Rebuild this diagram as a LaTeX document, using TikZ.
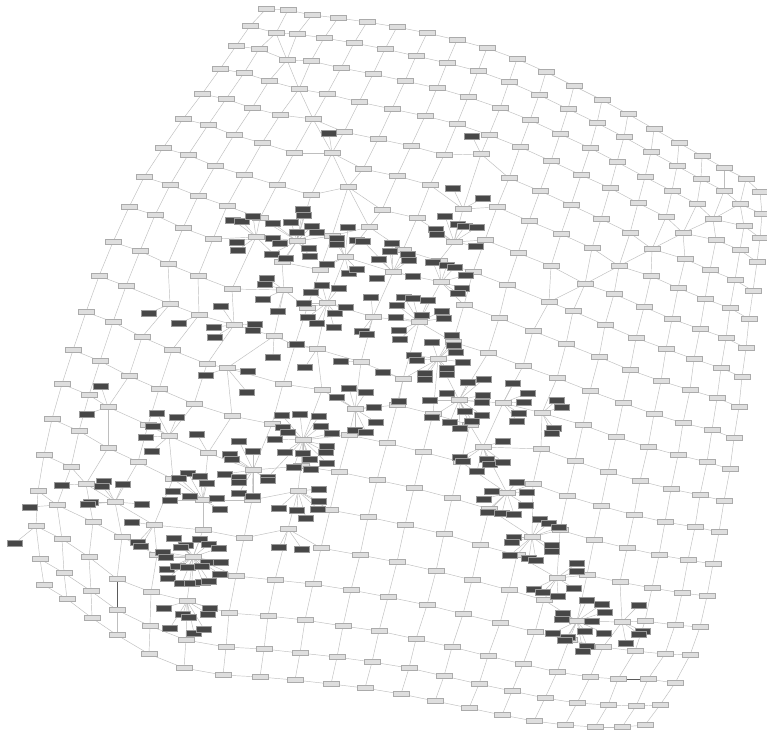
\documentclass[tikz,border=0pt]{standalone}
\pgfdeclarelayer{bg}
\pgfdeclarelayer{edges}
\pgfsetlayers{bg,edges,main}
\definecolor{lightfill}{HTML}{DEDEDE}
\definecolor{lightdraw}{HTML}{ABABAB}
\definecolor{darkfill}{HTML}{474747}
\definecolor{darkdraw}{HTML}{9A9A9A}
\definecolor{edgecol}{HTML}{BEBEBE}
\definecolor{darkedge}{HTML}{5A5A5A}
\newcount\bestd
\def\mTX{{266,288,312,338,367,397,427,457,487,517,546,574,602,628,654,679,702,724,746,760}}
\def\mTY{{9,10,15,18,22,27,33,40,48,59,72,86,100,114,129,143,156,168,179,192}}
\def\mBX{{44,67,92,117,149,184,223,260,295,331,365,401,435,469,502,534,565,595,622,645}}
\def\mBY{{585,599,618,635,654,668,675,677,680,684,688,694,701,708,715,721,725,727,727,725}}
\def\mLX{{266,250,236,220,202,183,163,144,129,113,99,86,73,62,52,44,38,36,40,44}}
\def\mLY{{9,26,46,69,94,119,148,177,207,242,276,312,350,384,419,455,491,526,559,585}}
\def\mRX{{760,762,760,757,753,749,746,742,739,734,730,724,719,713,707,700,690,675,660,645}}
\def\mRY{{192,214,238,262,291,319,348,377,407,438,469,501,532,564,596,627,655,683,705,725}}
\newcommand\findnear[3]{%
  \global\bestd=100000000\relax
  \foreach \i in {0,...,19}{\foreach \j in {0,...,19}{%
    \ifcsname cl-\i-\j\endcsname\else
      \edef\dd{\the\numexpr(\csname gx-\i-\j\endcsname-(#2))*(\csname gx-\i-\j\endcsname-(#2))+(\csname gy-\i-\j\endcsname-(#3))*(\csname gy-\i-\j\endcsname-(#3))\relax}%
      \ifnum\dd<\bestd\relax \global\bestd=\dd\relax \xdef\bestn{\i-\j}\fi
    \fi}}%
  \expandafter\xdef\csname hn-#1\endcsname{\bestn}%
  \expandafter\xdef\csname gx-\bestn\endcsname{#2}%
  \expandafter\xdef\csname gy-\bestn\endcsname{#3}%
  \expandafter\xdef\csname cl-\bestn\endcsname{1}%
}
\newcommand\hubfind[4]{\findnear{#1}{#2}{#3}}
\newcommand\hubnodes[4]{\foreach \px/\py [count=\kk] in {#4}{\node[dbox] (d-#1-\kk) at (\px,\py) {};}}
\newcommand\hubedges[4]{\edef\hn{\csname hn-#1\endcsname}\foreach \px/\py [count=\kk] in {#4}{\draw[lnk] (g-\hn) -- (d-#1-\kk);}}
\newcommand\HubData{%
\hubc{A}{297}{241}{303/209,304/215,273/223,291/222,312/226,317/232,297/232,273/238,280/243,272/254,309/248,310/256,286/258}%
\hubc{B}{256}{237}{233/220,242/221,253/216,237/242,238/250}%
\hubc{C}{345}{257}{348/227,337/238,337/244,357/240,327/264,349/273,357/269}%
\hubc{D}{393}{272}{379/259,390/251,408/254,409/260,413/276,377/278,363/241,392/243}%
\hubc{E}{454}{242}{445/216,436/229,437/234,458/224,465/226,477/227,476/246}%
\hubc{F}{441}{282}{433/262,447/265,455/267,466/275,462/288,458/293}%
\hubc{G}{327}{303}{322/285,339/288,311/292,304/303,346/307,335/313,308/317,317/323,334/327}%
\hubc{GB}{284}{290}{267/278,265/284,263/299,278/311}%
\hubc{H}{373}{317}{371/297,362/331,367/334}%
\hubc{I}{419}{322}{404/297,413/298,428/300,397/305,422/315,442/311,444/318,396/317,399/330,400/339}%
\hubc{J}{438}{359}{432/342,452/335,454/345,456/352,414/355,417/360,463/362,447/368,447/374,425/373,425/379}%
\hubc{K}{403}{379}{383/372,399/401}%
\hubc{KB}{317}{349}{297/344,305/367}%
\hubc{KC}{274}{336}{273/357}%
\hubc{KD}{361}{362}{341/361}%
\hubc{L}{355}{409}{349/388,366/392,337/397,374/407,376/422,355/430,366/432}%
\hubc{M}{303}{440}{282/415,300/414,319/416,283/427,288/432,321/426,332/433,275/439,327/446,326/452,285/452,303/453,310/459,327/463,294/467,311/469,268/477}%
\hubc{N}{459}{400}{468/382,484/379,447/393,430/400,483/395,482/402,465/411,432/417,450/422,472/421,482/415,460/428}%
\hubc{O}{503}{403}{513/383,528/393,524/402,519/413,517/421}%
\hubc{P}{483}{447}{503/441,460/457,463/461,487/459,490/464,503/462,477/471}%
\hubc{Q}{542}{413}{557/400,562/407,554/428,552/433}%
\hubc{R}{234}{325}{221/306,214/327,215/337,255/324,253/330}%
\hubc{SA}{170}{304}{149/313}%
\hubc{SB}{199}{315}{179/323}%
\hubc{SC}{227}{368}{206/375,248/371,247/392}%
\hubc{T}{108}{407}{101/386,87/414}%
\hubc{U}{169}{436}{157/413,177/417,153/426,146/437,152/451}%
\hubc{V}{208}{453}{197/434}%
\hubc{W}{253}{470}{239/441,253/451,230/454,232/459,225/474,239/477,239/482,239/493,253/496,268/480}%
\hubc{X}{203}{500}{188/473,200/476,179/478,207/483,173/491,170/500,190/496,217/498,220/509}%
\hubc{Y}{115}{502}{104/481,102/486,123/484,91/502,88/504,142/504}%
\hubc{YB}{86}{484}{62/485}%
\hubc{YC}{57}{505}{30/507}%
\hubc{YD}{36}{526}{15/543}%
\hubc{Z}{154}{525}{132/522,138/542,141/546}%
\hubc{AA}{193}{557}{174/538,186/545,200/539,209/544,219/548,163/552,166/557,181/547,208/562,221/562,167/569,178/566,188/567,202/566,168/578,182/583,192/583,203/582,209/581,220/574}%
\hubc{AB}{187}{601}{164/608,183/614,189/617,210/608,208/614,170/628,194/633,204/629}%
\hubc{AC}{298}{491}{319/489,319/501,318/509,306/518,279/508,297/510}%
\hubc{AD}{288}{529}{279/547,302/549}%
\hubc{AE}{507}{493}{492/491,484/499,527/492,488/512,502/513,514/514,526/505,517/482}%
\hubc{AF}{532}{537}{540/519,549/523,559/527,514/537,512/542,552/545,552/551,510/555,529/558,536/560}%
\hubc{AG}{557}{578}{577/563,577/571,534/589,543/592,558/596,574/588}%
\hubc{AH}{577}{621}{587/600,602/604,605/612,563/613,562/619,592/621,553/633,568/637,565/640,585/631,604/633,587/646,583/651}%
\hubc{AI}{622}{622}{639/605,643/631,639/634,626/643}%
\hubc{SD}{332}{153}{329/133}%
\hubc{SE}{481}{154}{472/136}%
\hubc{SF}{463}{209}{453/188,483/198}%
}
\newcommand\ChainData{%
\findnear{ca}{276}{33}\findnear{cb}{287}{60}\findnear{cc}{299}{89}\findnear{cd}{313}{119}%
\findnear{cf}{348}{187}\findnear{cg}{369}{227}%
\findnear{ea}{740}{204}\findnear{eb}{713}{219}\findnear{ec}{683}{233}\findnear{ed}{652}{249}%
\findnear{ee}{619}{266}\findnear{ef}{585}{284}\findnear{eg}{549}{302}%
\findnear{va}{117}{579}\findnear{vb}{117}{610}\findnear{vc}{618}{679}\findnear{vd}{648}{679}%
}
\begin{document}
\begin{tikzpicture}[x=1pt,y=-1pt,
  lbox/.style={rectangle,draw=lightdraw,fill=lightfill,line width=0.4pt,minimum width=16pt,minimum height=5pt,inner sep=0pt},
  dbox/.style={rectangle,draw=darkdraw,fill=darkfill,line width=0.4pt,minimum width=15pt,minimum height=6pt,inner sep=0pt},
  lnk/.style={draw=edgecol,line width=0.45pt},
  darklnk/.style={draw=darkedge,line width=0.8pt}]
\begin{pgfonlayer}{bg}
\fill[white] (0,0) rectangle (767,729);
\end{pgfonlayer}
\useasboundingbox (0,0) rectangle (767,729);
% mesh coordinates (Coons patch of the four border rows)
\foreach \i in {0,...,19}{\foreach \j in {0,...,19}{%
  \pgfmathsetmacro\pu{\i/19}\pgfmathsetmacro\pv{\j/19}%
  \pgfmathtruncatemacro\gxv{round((1-\pv)*\mTX[\i]+\pv*\mBX[\i]+(1-\pu)*\mLX[\j]+\pu*\mRX[\j]-((1-\pu)*(1-\pv)*266+\pu*(1-\pv)*760+(1-\pu)*\pv*44+\pu*\pv*645))}%
  \pgfmathtruncatemacro\gyv{round((1-\pv)*\mTY[\i]+\pv*\mBY[\i]+(1-\pu)*\mLY[\j]+\pu*\mRY[\j]-((1-\pu)*(1-\pv)*9+\pu*(1-\pv)*192+(1-\pu)*\pv*585+\pu*\pv*725))}%
  \expandafter\xdef\csname gx-\i-\j\endcsname{\gxv}%
  \expandafter\xdef\csname gy-\i-\j\endcsname{\gyv}%
}}
% snap hubs and chain nodes onto the mesh
\let\hubc\hubfind
\HubData
\ChainData
% light grid nodes
\foreach \i in {0,...,19}{\foreach \j in {0,...,19}{%
  \edef\cx{\csname gx-\i-\j\endcsname}\edef\cy{\csname gy-\i-\j\endcsname}%
  \node[lbox] (g-\i-\j) at (\cx,\cy) {};}}
% dark leaf nodes
\let\hubc\hubnodes
\HubData
\begin{pgfonlayer}{edges}
\foreach \i in {0,...,18}{\pgfmathtruncatemacro\ii{\i+1}\foreach \j in {0,...,19}{\draw[lnk] (g-\i-\j) -- (g-\ii-\j);}}
\foreach \i in {0,...,19}{\foreach \j in {0,...,18}{\pgfmathtruncatemacro\jj{\j+1}\draw[lnk] (g-\i-\j) -- (g-\i-\jj);}}
\let\hubc\hubedges
\HubData
\foreach \a/\b in {ca/cb,cb/cc,cc/cd,cd/SD,SD/cf,cf/cg,ea/eb,eb/ec,ec/ed,ed/ee,ee/ef,ef/eg}{%
  \edef\na{\csname hn-\a\endcsname}\edef\nb{\csname hn-\b\endcsname}%
  \draw[lnk] (g-\na) -- (g-\nb);}
\foreach \a/\b in {va/vb,vc/vd}{%
  \edef\na{\csname hn-\a\endcsname}\edef\nb{\csname hn-\b\endcsname}%
  \draw[darklnk] (g-\na) -- (g-\nb);}
\end{pgfonlayer}
\end{tikzpicture}
\end{document}
